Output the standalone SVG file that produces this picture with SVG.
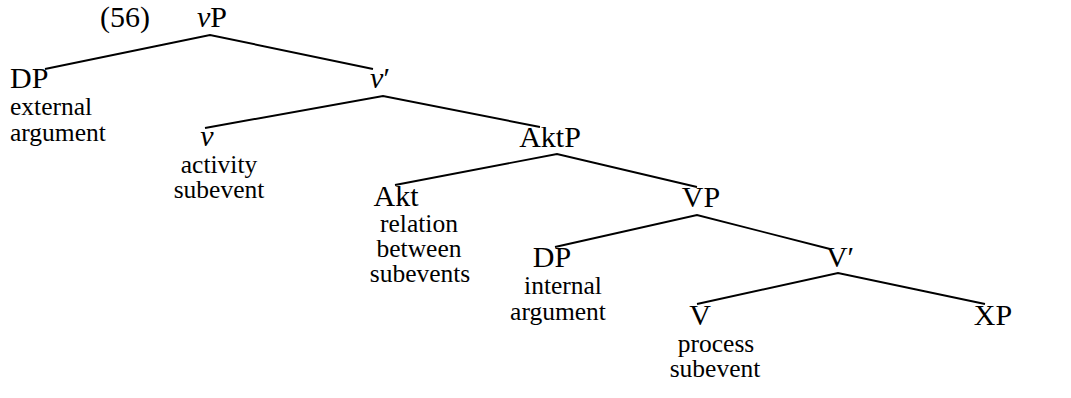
<svg xmlns="http://www.w3.org/2000/svg" width="1071" height="398" viewBox="0 0 1071 398" font-family="'Liberation Serif', 'Times New Roman', serif">
  <style>
    text { font-family: "Liberation Serif", "Times New Roman", serif; fill: #000; }
    .lbl { font-size: 30px; }
    .ann { font-size: 25.5px; text-anchor: middle; }
    .left { text-anchor: start; }
    .mid { text-anchor: middle; }
    .it { font-style: italic; }
    .edge { stroke: #000; stroke-width: 1.9; fill: none; }
  </style>
  <rect width="1071" height="398" fill="#fff"/>

  <!-- example number -->
  <text class="lbl" x="100" y="27">(56)</text>

  <!-- branches -->
  <g id="connectors">
    <polyline class="edge" points="45,69 210,35 373,69"/>
    <polyline class="edge" points="205,128 383,96 540,127"/>
    <polyline class="edge" points="395,185 557,154 697,187"/>
    <polyline class="edge" points="555,247 697,215 830,249"/>
    <polyline class="edge" points="697,304 838,273 985,304"/>
  </g>

  <g id="node-vP">
    <text class="lbl" x="197" y="27"><tspan class="it">v</tspan>P</text>
  </g>

  <g id="node-DP-ext">
    <text class="lbl" x="10" y="88">DP</text>
    <text class="ann left" x="10" y="115">external</text>
    <text class="ann left" x="10" y="141">argument</text>
  </g>

  <g id="node-vbar">
    <text class="lbl mid" x="380" y="88"><tspan class="it">v</tspan>′</text>
  </g>

  <g id="node-v">
    <text class="lbl mid it" x="207" y="146">v</text>
    <text class="ann" x="219" y="173">activity</text>
    <text class="ann" x="219" y="198">subevent</text>
  </g>

  <g id="node-AktP">
    <text class="lbl mid" x="550" y="147">AktP</text>
  </g>

  <g id="node-Akt">
    <text class="lbl mid" x="396" y="206">Akt</text>
    <text class="ann" x="419" y="232">relation</text>
    <text class="ann" x="419" y="257">between</text>
    <text class="ann" x="420" y="282">subevents</text>
  </g>

  <g id="node-VP">
    <text class="lbl mid" x="701" y="207">VP</text>
  </g>

  <g id="node-DP-int">
    <text class="lbl mid" x="552" y="267">DP</text>
    <text class="ann" x="563" y="294">internal</text>
    <text class="ann" x="558" y="320">argument</text>
  </g>

  <g id="node-Vbar">
    <text class="lbl mid" x="840" y="267">V′</text>
  </g>

  <g id="node-V">
    <text class="lbl mid" x="700" y="325">V</text>
    <text class="ann" x="716" y="352">process</text>
    <text class="ann" x="715" y="377">subevent</text>
  </g>

  <g id="node-XP">
    <text class="lbl mid" x="993" y="325">XP</text>
  </g>
</svg>
